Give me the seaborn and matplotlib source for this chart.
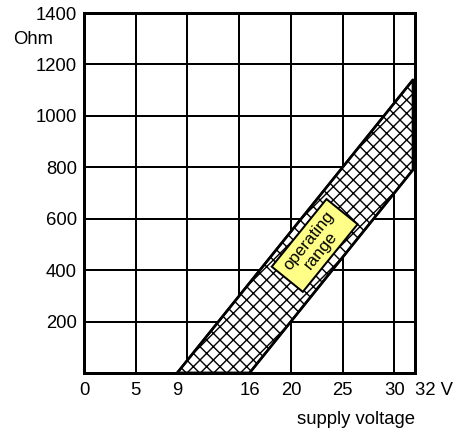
import matplotlib
matplotlib.use('Agg')
import matplotlib.pyplot as plt
import seaborn as sns
import numpy as np
import pandas as pd
from matplotlib.patches import Rectangle
from matplotlib.transforms import Affine2D, ScaledTranslation

# ---- data ----
band_voltage = [9, 16, 31.8]
band_upper = [0, 350, 1140]
band_lower = [0, 0, 790]

x_tick_values = [0, 5, 9, 16, 20, 25, 30, 32]
x_tick_labels = ['0', '5', '9', '16', '20', '25', '30', '32 V']
x_grid_values = [5, 10, 15, 20, 25, 30]
y_tick_values = [200, 400, 600, 800, 1000, 1200, 1400]
y_tick_labels = ['200', '400', '600', '800', '1000', '1200', '1400']

label_text = 'operating\nrange'
label_voltage = 22.3
label_resistance = 496

DPI = 80
PT = 72 / DPI  # points per pixel

sns.set_theme(style='white')
plt.rcParams['font.family'] = ['Liberation Sans', 'DejaVu Sans']
plt.rcParams['hatch.linewidth'] = 1.4 * PT
plt.rcParams['hatch.color'] = 'black'

fig = plt.figure(figsize=(458 / DPI, 432 / DPI), dpi=DPI)
fig.patch.set_facecolor('white')
ax = fig.add_axes([84 / 458, 1 - 373 / 432, (415 - 84) / 458, (373 - 13) / 432])
ax.set_facecolor('white')

df = pd.DataFrame({'V': band_voltage, 'upper': band_upper, 'lower': band_lower})

ax.fill_between(df['V'], df['lower'], df['upper'], facecolor='white',
                edgecolor='black', hatch='xx', linewidth=2.5 * PT, zorder=2)
sns.lineplot(data=df, x='V', y='upper', color='black', linewidth=2.5 * PT, ax=ax, zorder=3)
sns.lineplot(data=df, x='V', y='lower', color='black', linewidth=2.5 * PT, ax=ax, zorder=3)

ax.set_xlim(0, 32)
ax.set_ylim(0, 1400)

FS = 18.5 * PT
ax.xaxis.remove_overlapping_locs = False
ax.set_xticks(x_tick_values)
ax.set_xticklabels(x_tick_labels, fontsize=FS)
ax.set_xticks(x_grid_values, minor=True)
ax.set_yticks(y_tick_values)
ax.set_yticklabels(y_tick_labels, fontsize=FS)
ax.get_xticklabels()[-1].set_horizontalalignment('left')
ax.tick_params(axis='both', which='both', length=0, colors='black')
ax.tick_params(axis='x', pad=9 * PT)
ax.tick_params(axis='y', pad=7 * PT)

ax.set_axisbelow(True)
ax.grid(False)
ax.grid(True, which='minor', axis='x', color='black', linewidth=2 * PT)
ax.grid(True, which='major', axis='y', color='black', linewidth=2 * PT)
ax.grid(False, which='major', axis='x')

for s in ax.spines.values():
    s.set_visible(True)
    s.set_color('black')
    s.set_linewidth(3 * PT)
    s.set_zorder(5)

ax.set_xlabel('supply voltage', fontsize=FS, loc='right', labelpad=12 * PT, color='black')
ax.set_ylabel('')
fig.text(13 / 458, 1 - 39 / 432, 'Ohm', fontsize=FS, ha='left', va='center', color='black')

# label box for the operating range (size in pixels, rotated along the band)
box_tr = Affine2D().rotate_deg(51) + ScaledTranslation(label_voltage, label_resistance, ax.transData)
ax.add_patch(Rectangle((-43.5, -20), 87, 40, transform=box_tr, facecolor='#ffff88',
                       edgecolor='black', linewidth=2 * PT, zorder=4))
ax.text(label_voltage, label_resistance, label_text, rotation=51, rotation_mode='anchor',
        ha='center', va='center', fontsize=17 * PT, linespacing=1.0, zorder=5, color='black')

fig.savefig('out.png', dpi=DPI, facecolor='white')
